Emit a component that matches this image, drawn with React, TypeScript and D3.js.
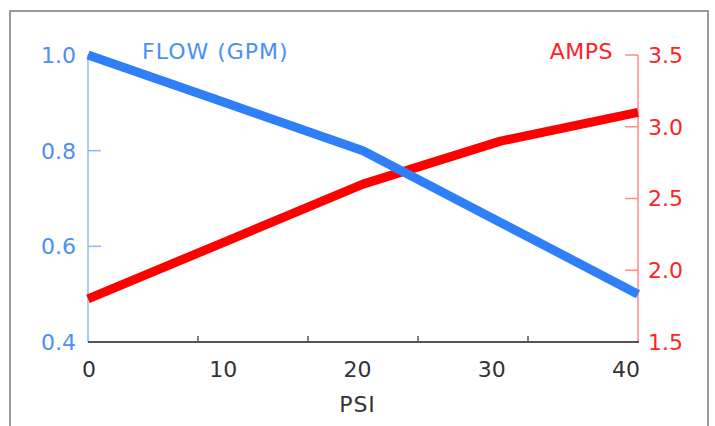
import React from "react";
import * as d3 from "d3";

const psi = [0, 10, 20, 30, 40];
const flowGpm = [1.0, 0.9, 0.8, 0.65, 0.5];
const amps = [1.8, 2.2, 2.6, 2.9, 3.1];
const xTickLabels = [0, 10, 20, 30, 40];
const xMinorTicks = [8, 16, 24, 32];
const flowTicks = [0.4, 0.6, 0.8, 1.0];
const ampTicks = [1.5, 2.0, 2.5, 3.0, 3.5];

const W = 715;
const H = 426;
const FONT = "'DejaVu Sans', Verdana, sans-serif";
const BLUE = "#2f7ff8";
const BLUE_TXT = "#4a90f5";
const BLUE_AXIS = "#8ab8fb";
const RED = "#ff0000";
const RED_TXT = "#ff2424";
const RED_AXIS = "#ff8a8a";

export default function App() {
  const x = d3.scaleLinear().domain([0, 40]).range([88, 638]);
  const xl = d3.scaleLinear().domain([0, 40]).range([x(0) + 1, x(40) - 12]);
  const yL = d3.scaleLinear().domain([0.4, 1.0]).range([342, 55]);
  const yR = d3.scaleLinear().domain([1.5, 3.5]).range([342, 55]);

  const flowLine = d3
    .line<number>()
    .x((_, i) => x(psi[i]))
    .y((d) => yL(d))
    .curve(d3.curveLinear);
  const ampLine = d3
    .line<number>()
    .x((_, i) => x(psi[i]))
    .y((d) => yR(d))
    .curve(d3.curveLinear);

  return (
    <svg
      width={W}
      height={H}
      style={{ position: "absolute", left: 0, top: 0, background: "#fff" }}
      fontFamily={FONT}
    >
      <rect x={10} y={11} width={698} height={430} fill="#fff" stroke="#9a9a9a" strokeWidth={2} />

      {/* left axis */}
      <line x1={x(0)} x2={x(0)} y1={yL(1.0)} y2={yL(0.4)} stroke={BLUE_AXIS} strokeWidth={1.5} />
      {flowTicks
        .filter((t) => t > 0.4)
        .map((t) => (
          <line key={t} x1={x(0)} x2={x(0) + 13} y1={yL(t)} y2={yL(t)} stroke={BLUE_AXIS} strokeWidth={1.5} />
        ))}
      {flowTicks.map((t) => (
        <text key={t} x={x(0) - 12} y={yL(t)} dy="0.36em" textAnchor="end" fontSize={22} fill={BLUE_TXT}>
          {t.toFixed(1)}
        </text>
      ))}

      {/* right axis */}
      <line x1={x(40)} x2={x(40)} y1={yR(3.5)} y2={yR(1.5)} stroke={RED_AXIS} strokeWidth={1.5} />
      {ampTicks
        .filter((t) => t > 1.5)
        .map((t) => (
          <line key={t} x1={x(40) - 13} x2={x(40)} y1={yR(t)} y2={yR(t)} stroke={RED_AXIS} strokeWidth={1.5} />
        ))}
      {ampTicks.map((t) => (
        <text key={t} x={x(40) + 10} y={yR(t)} dy="0.36em" textAnchor="start" fontSize={22} fill={RED_TXT}>
          {t.toFixed(1)}
        </text>
      ))}

      {/* x axis */}
      <line x1={x(0)} x2={x(40) + 1} y1={yL(0.4)} y2={yL(0.4)} stroke="#555" strokeWidth={2} />
      {xMinorTicks.map((t) => (
        <line key={t} x1={x(t)} x2={x(t)} y1={yL(0.4)} y2={yL(0.4) - 6} stroke="#555" strokeWidth={1.5} />
      ))}
      {xTickLabels.map((t) => (
        <text key={t} x={xl(t)} y={377} textAnchor="middle" fontSize={22} fill="#333">
          {t}
        </text>
      ))}
      <text x={xl(20)} y={412} textAnchor="middle" fontSize={22} fill="#333" letterSpacing={1}>
        PSI
      </text>

      {/* series */}
      <path d={ampLine(amps) || ""} fill="none" stroke={RED} strokeWidth={9} strokeLinejoin="round" />
      <path d={flowLine(flowGpm) || ""} fill="none" stroke={BLUE} strokeWidth={9} strokeLinejoin="round" />

      <text x={142} y={59} fontSize={22} fill={BLUE_TXT} letterSpacing={1}>
        FLOW (GPM)
      </text>
      <text x={613} y={59} textAnchor="end" fontSize={22} fill={RED_TXT} letterSpacing={0.5}>
        AMPS
      </text>
    </svg>
  );
}
